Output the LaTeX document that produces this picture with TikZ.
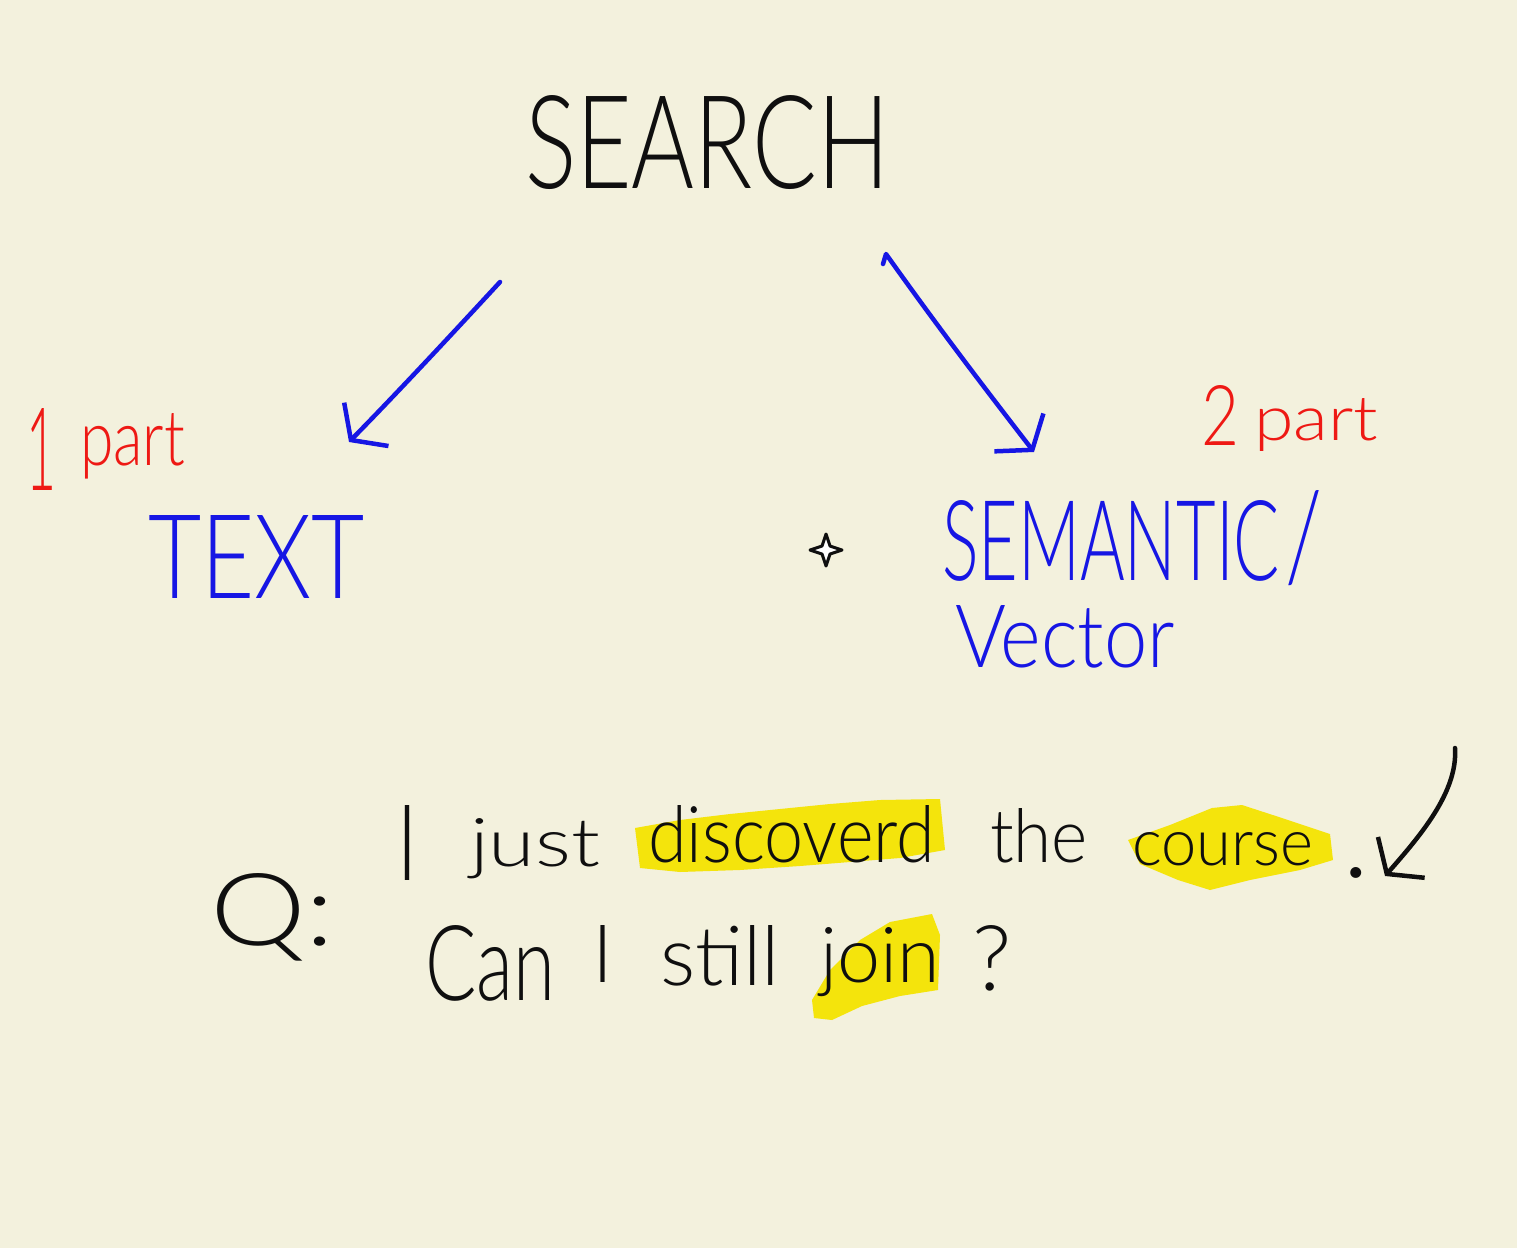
\documentclass[tikz,border=0pt]{standalone}
\usepackage{fontspec}
\setmainfont{Lato Light}
\usepackage{graphicx}
\usetikzlibrary{arrows.meta}
\definecolor{paper}{RGB}{243,241,221}
\definecolor{inkblue}{RGB}{22,22,228}
\definecolor{inkred}{RGB}{238,25,20}
\definecolor{inkblack}{RGB}{15,15,15}
\definecolor{hilite}{RGB}{244,228,12}
\newcommand{\fitbox}[3]{\resizebox{#1}{#2}{#3}}
\begin{document}
\begin{tikzpicture}[x=1pt,y=-1pt,
  word/.style={inner sep=0pt, outer sep=0pt, anchor=base west, font=\fontsize{100}{100}\selectfont},
  blueword/.style={word, text=inkblue},
  redword/.style={word, text=inkred},
  blackword/.style={word, text=inkblack},
  inkarrow/.style={line width=4.5pt, line cap=round, line join=round,
    -{Straight Barb[length=22pt,width=62pt,line width=4.5pt]}},
  bluearrow/.style={inkarrow, draw=inkblue},
  blackarrow/.style={inkarrow, draw=inkblack},
  marker/.style={fill=hilite, draw=none}]
% page
\fill[paper] (0,0) rectangle (1517,1248);
\useasboundingbox (0,0) rectangle (1517,1248);

% highlights
\fill[marker] (635,828) -- (680,820) -- (730,814) -- (780,809) -- (830,804) -- (880,800) -- (940,799)
  -- (945,850) -- (900,858) -- (850,862) -- (800,866) -- (740,870) -- (680,872) -- (640,868) -- cycle;
\fill[marker] (1128,840) -- (1170,825) -- (1212,808) -- (1242,805) -- (1282,818) -- (1330,834)
  -- (1333,860) -- (1300,870) -- (1250,880) -- (1210,890) -- (1178,880) -- (1140,864) -- cycle;
\fill[marker] (812,1000) -- (830,970) -- (860,940) -- (890,922) -- (932,914) -- (940,935)
  -- (938,990) -- (900,996) -- (862,1006) -- (832,1020) -- (814,1018) -- cycle;

% top word
\node[blackword] (search) at (525,188) {\fitbox{365pt}{93pt}{SEARCH}};

% left branch
\node[redword] (one) at (26,490) {\fitbox{30pt}{82pt}{1}};
\node[redword] (partA) at (80,465) {\fitbox{105pt}{52pt}{part}};
\node[blueword] (text) at (148,598) {\fitbox{217pt}{83pt}{TEXT}};

% right branch
\node[redword] (two) at (1201,445) {\fitbox{38pt}{60pt}{2}};
\node[redword] (partB) at (1254,440) {\fitbox{124pt}{42pt}{part}};
\node[blueword] (semantic) at (942,580) {\fitbox{338pt}{80pt}{SEMANTIC}};
\node[blueword] (slash) at (1285,580) {\fitbox{37pt}{90pt}{/}};
\node[blueword] (vector) at (955,667) {\fitbox{220pt}{62pt}{Vector}};

% cursor mark
\draw[line width=3pt, draw=inkblack, fill=white, line join=round]
  (826,534) -- (830,546) -- (842,550) -- (830,554) -- (826,566) -- (822,554) -- (810,550) -- (822,546) -- cycle;

% question, line 1
\node[blackword] (q) at (210,945) {\fitbox{125pt}{72pt}{Q:}};
\node[blackword] (i1) at (396,880) {\fitbox{22pt}{75pt}{I}};
\node[blackword] (just) at (470,866) {\fitbox{130pt}{48pt}{just}};
\node[blackword] (discoverd) at (648,862) {\fitbox{287pt}{57pt}{discoverd}};
\node[blackword] (the) at (990,862) {\fitbox{98pt}{54pt}{the}};
\node[blackword] (course) at (1132,865) {\fitbox{181pt}{33pt}{course}};
\node[blackword] (dot) at (1342,877) {\fitbox{!}{10pt}{.}};

% question, line 2
\node[blackword] (can) at (425,1000) {\fitbox{130pt}{75pt}{Can}};
\node[blackword] (i2) at (592,982) {\fitbox{!}{57pt}{I}};
\node[blackword] (still) at (660,985) {\fitbox{120pt}{60pt}{still}};
\node[blackword] (join) at (820,982) {\fitbox{120pt}{55pt}{join}};
\node[blackword] (qmark) at (972,990) {\fitbox{!}{65pt}{?}};

% connectors
\coordinate (a1s) at (500,282);
\coordinate (a1e) at (349,442);
\draw[bluearrow] (a1s) .. controls (452,334) and (398,392) .. (a1e);

\coordinate (a2h) at (883,264);
\coordinate (a2s) at (886,254);
\coordinate (a2e) at (1034,452);
\draw[bluearrow] (a2h) -- (a2s) .. controls (940,330) and (990,395) .. (a2e);

\coordinate (a3s) at (1455,748);
\coordinate (a3e) at (1385,876);
\draw[blackarrow] (a3s) .. controls (1458,792) and (1420,836) .. (a3e);
\end{tikzpicture}
\end{document}
